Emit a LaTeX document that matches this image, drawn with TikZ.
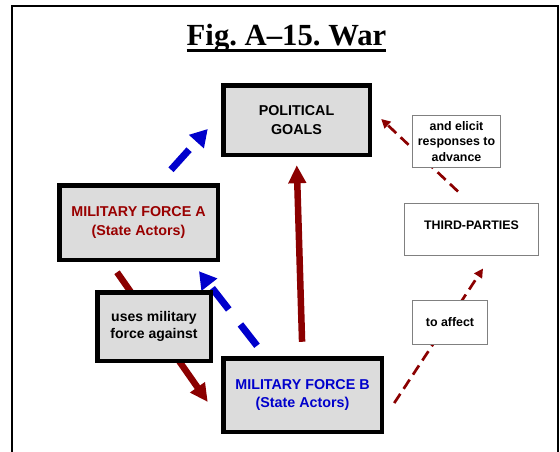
\documentclass[tikz,border=0pt]{standalone}
\usepackage{fontspec}
\setmainfont{Liberation Serif}
\setsansfont{Liberation Sans}
\usetikzlibrary{arrows.meta,calc,backgrounds}
\definecolor{boxgray}{HTML}{DCDCDC}
\definecolor{darkred}{HTML}{8B0000}
\definecolor{textred}{HTML}{990000}
\definecolor{textblue}{HTML}{0000CC}
\definecolor{arrowblue}{HTML}{0000CC}
\definecolor{thinedge}{HTML}{808080}
\frenchspacing
\begin{document}
\begin{tikzpicture}[x=1pt,y=-1pt,
  thickbox/.style={draw=black, line width=4.5pt, fill=boxgray, inner sep=0pt, align=center,
    font=\sffamily\bfseries\fontsize{14.3}{19}\selectfont},
  thinbox/.style={draw=thinedge, line width=1pt, fill=white, inner sep=0pt, align=center,
    font=\sffamily\bfseries\fontsize{12.4}{15.3}\selectfont},
  bluearrow/.style={draw=arrowblue, line width=7pt, dash pattern=on 27pt off 19pt,
    -{Triangle[length=17pt,width=19pt]}},
  redarrow/.style={draw=darkred, line width=6.5pt, -{Triangle[length=18pt,width=17pt]}},
  reddash/.style={draw=darkred, line width=2.7pt, dash pattern=on 11pt off 6pt,
    -{Triangle[length=9pt,width=9pt]}},
  titletext/.style={font=\bfseries\fontsize{30.7}{36}\selectfont, inner sep=0pt, anchor=base},
]
\useasboundingbox (0,0) rectangle (560,451);
\clip (0,0) rectangle (560,451);

% frame
\draw[line width=1.3pt] (12,6) rectangle (558,470);

% title
\node[titletext] (title) at (286.5,45) {Fig. A–15. War};
\draw[line width=2.7pt] ([yshift=-5.3pt]title.base west) -- ([yshift=-5.3pt]title.base east);

% boxes
\node[thickbox, minimum width=146.5pt, minimum height=69.5pt] (pg) at (296.5,120) {POLITICAL\\GOALS};
\node[thickbox, minimum width=158.5pt, minimum height=74.5pt, text=textred] (fa) at (138.5,222.5) {MILITARY FORCE A\\(State Actors)};
\node[thickbox, minimum width=113.5pt, minimum height=68.5pt,
  font=\sffamily\bfseries\fontsize{14}{17.6}\selectfont] (um) at (154,326.5) {uses military\\force against};
\node[thickbox, minimum width=158.5pt, minimum height=73.5pt, text=textblue,
  font=\sffamily\bfseries\fontsize{14.3}{17.7}\selectfont] (fb) at (302.5,395) {MILITARY FORCE B\\(State Actors)};

\node[thinbox, minimum width=88pt, minimum height=52pt] (el) at (456.5,141.5) {and elicit\\responses to\\advance};
\node[thinbox, minimum width=134pt, minimum height=52pt, text depth=9pt] (tp) at (471.5,229.5) {THIRD-PARTIES};
\node[thinbox, minimum width=75pt, minimum height=44pt] (ta) at (450,322.5) {to affect};

% arrow end points
\coordinate (b1s) at ($(fa.north)+(32.5,-13.25)$);
\coordinate (b1e) at ($(pg.west)+(-13.25,9)$);
\coordinate (b2s) at ($(fb.north)+(-45.5,-10.25)$);
\coordinate (b2e) at ($(fa.south)+(60.5,9.25)$);
\coordinate (r3s) at ($(fa.south)+(-21.5,10.25)$);
\coordinate (r3e) at ($(fb.west)+(-13.25,7)$);
\coordinate (r5s) at ($(fb.east)+(10.25,8)$);
\coordinate (r5e) at ($(tp.south)+(11.5,12.5)$);
\coordinate (r6s) at ($(tp.north)+(-13.5,-11.5)$);
\coordinate (r6e) at ($(pg.east)+(9.25,-1)$);

\begin{scope}[on background layer]
  \draw[bluearrow] (b1s) -- (b1e);
  \draw[bluearrow] (b2s) -- (b2e);
  \draw[redarrow] (r3s) -- (r3e);
  \draw[redarrow, shorten <=14.25pt, shorten >=8.25pt] (fb.north) -- (pg.south);
  \draw[reddash] (r5s) -- (r5e);
  \draw[reddash] (r6s) -- (r6e);
\end{scope}
\end{tikzpicture}
\end{document}
